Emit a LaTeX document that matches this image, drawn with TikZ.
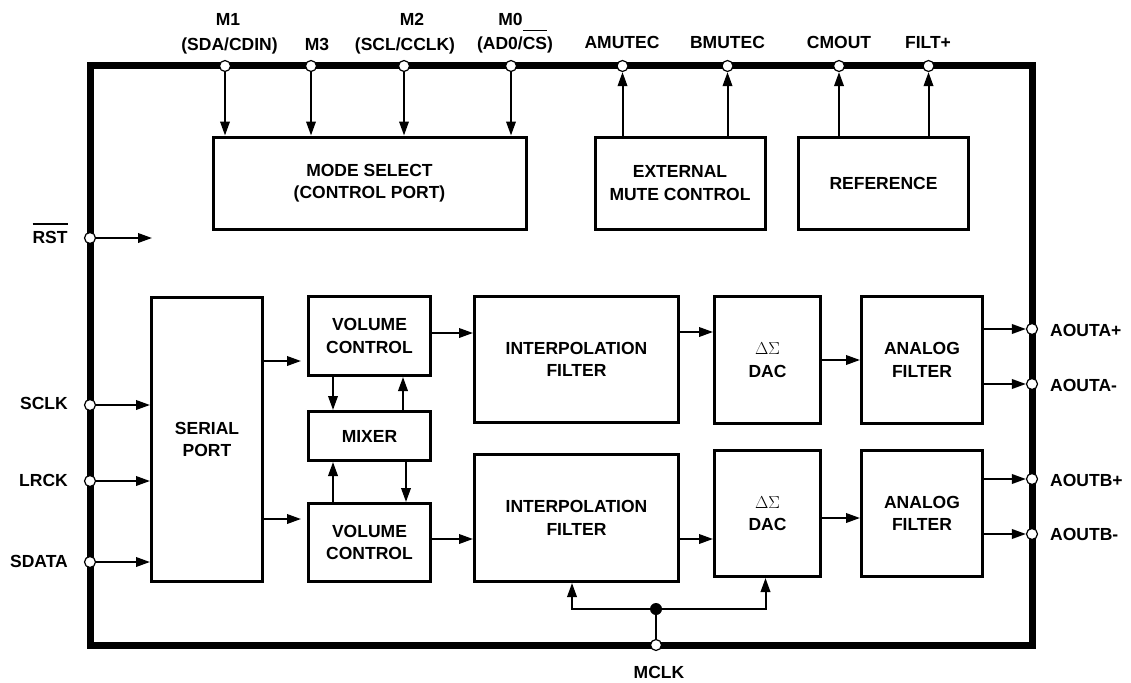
\documentclass[tikz,border=0pt]{standalone}
\usepackage{fontspec}
\setmainfont{Liberation Sans}
\usetikzlibrary{arrows.meta}
\newlength\olw
\newcommand\olt[1]{\settowidth\olw{#1}\rlap{\rule[18.5pt]{\olw}{1.3pt}}#1}
\begin{document}
\begin{tikzpicture}[x=1pt,y=-1pt,
  every node/.style={font=\fontsize{17.5}{22.5}\selectfont\bfseries},
  box/.style={draw, line width=3pt, inner sep=0pt, align=center},
  lbl/.style={inner sep=0pt, align=center},
  pinc/.style={circle, draw, fill=white, line width=1.2pt, inner sep=0pt, minimum size=11pt},
  arr/.style={line width=2pt, -{Triangle[length=14pt,width=9.5pt]}},
  wire/.style={line width=2pt}]
\useasboundingbox (0,0) rectangle (1131,682);

% chip outline
\node[draw, line width=7pt, minimum width=942pt, minimum height=579pt, inner sep=0pt] (chip) at (561,355.5) {};

% pins
\foreach \n/\x in {M1/225, M3/311, M2/404, M0/511, AM/622.5, BM/727.5, CM/839, FP/928.5}
  \node[pinc] (p\n) at (\x,66) {};
\foreach \n/\y in {RST/238, SCLK/405, LRCK/481, SDATA/562}
  \node[pinc] (p\n) at (90,\y) {};
\foreach \n/\y in {AAp/329, AAm/384, ABp/479, ABm/534}
  \node[pinc] (p\n) at (1032,\y) {};
\node[pinc] (pMCLK) at (656,645) {};

% blocks
\node[box, minimum width=313pt, minimum height=92pt] (mode) at (369.5,183) {MODE SELECT\\(CONTROL PORT)};
\node[box, minimum width=170pt, minimum height=92pt] (mute) at (680,183) {EXTERNAL\\MUTE CONTROL};
\node[box, minimum width=170pt, minimum height=92pt] (ref) at (883.5,183) {REFERENCE};
\node[box, minimum width=111pt, minimum height=284pt] (serial) at (207,439.5) {SERIAL\\PORT};
\node[box, minimum width=122pt, minimum height=79pt] (vol1) at (369.5,336) {VOLUME\\CONTROL};
\node[box, minimum width=122pt, minimum height=49pt] (mixer) at (369.5,436) {MIXER};
\node[box, minimum width=122pt, minimum height=78pt] (vol2) at (369.5,542.5) {VOLUME\\CONTROL};
\node[box, minimum width=204pt, minimum height=126pt] (interp1) at (576.5,359.5) {INTERPOLATION\\FILTER};
\node[box, minimum width=204pt, minimum height=127pt] (interp2) at (576.5,518) {INTERPOLATION\\FILTER};
\node[box, minimum width=106pt, minimum height=127pt] (dac1) at (767.5,360) {{\fontsize{16}{22}\selectfont\mdseries$\Delta\Sigma$}\\DAC};
\node[box, minimum width=106pt, minimum height=126pt] (dac2) at (767.5,513.5) {{\fontsize{16}{22}\selectfont\mdseries$\Delta\Sigma$}\\DAC};
\node[box, minimum width=121pt, minimum height=127pt] (ana1) at (922,360) {ANALOG\\FILTER};
\node[box, minimum width=121pt, minimum height=126pt] (ana2) at (922,513.5) {ANALOG\\FILTER};

% pin labels
\node[lbl, anchor=base] (tM1a) at (228,26) {M1};
\node[lbl, anchor=base] (tM1b) at (229.5,51) {(SDA/CDIN)};
\node[lbl, anchor=base] (tM3) at (317,51) {M3};
\node[lbl, anchor=base] (tM2a) at (412,26) {M2};
\node[lbl, anchor=base] (tM2b) at (405,51) {(SCL/CCLK)};
\node[lbl, anchor=base] (tM0a) at (510.5,26) {M0};
\node[lbl, anchor=base] (tM0b) at (515,50) {(AD0/\olt{CS})};
\node[lbl, anchor=base] (tAM) at (622,49) {AMUTEC};
\node[lbl, anchor=base] (tBM) at (727.5,49) {BMUTEC};
\node[lbl, anchor=base] (tCM) at (839,49) {CMOUT};
\node[lbl, anchor=base] (tFP) at (928,49) {FILT+};
\node[lbl, anchor=base] (tRST) at (50,243) {\olt{RST}};
\node[lbl, anchor=base east] (tSCLK) at (68,409) {SCLK};
\node[lbl, anchor=base east] (tLRCK) at (68,486) {LRCK};
\node[lbl, anchor=base east] (tSDATA) at (68,567) {SDATA};
\node[lbl, anchor=base west] (tAAp) at (1050,336) {AOUTA+};
\node[lbl, anchor=base west] (tAAm) at (1050,391) {AOUTA-};
\node[lbl, anchor=base west] (tABp) at (1050,486) {AOUTB+};
\node[lbl, anchor=base west] (tABm) at (1050,540) {AOUTB-};
\node[lbl, anchor=base] (tMCLK) at (659,678) {MCLK};

% control connectors
\foreach \p in {M1,M3,M2,M0}
  \draw[arr] (p\p) -- (p\p |- mode.north);
\foreach \p in {AM,BM}
  \draw[arr] (p\p |- mute.north) -- (p\p);
\foreach \p in {CM,FP}
  \draw[arr] (p\p |- ref.north) -- (p\p);
\coordinate (rstEnd) at (152,238);
\draw[arr] (pRST) -- (rstEnd);
\foreach \p in {SCLK,LRCK,SDATA}
  \draw[arr] (p\p) -- (p\p -| serial.west);

% data path
\draw[arr, shorten >=6pt] ([yshift=78.5pt]serial.east) -- ([yshift=78.5pt]serial.east -| vol1.west);
\draw[arr, shorten >=6pt] ([yshift=-79.5pt]serial.east) -- ([yshift=-79.5pt]serial.east -| vol2.west);
\draw[arr] ([xshift=-36.5pt]vol1.south) -- ([xshift=-36.5pt]mixer.north);
\draw[arr] ([xshift=33.5pt]mixer.north) -- ([xshift=33.5pt]vol1.south);
\draw[arr] ([xshift=36.5pt]mixer.south) -- ([xshift=36.5pt]vol2.north);
\draw[arr] ([xshift=-36.5pt]vol2.north) -- ([xshift=-36.5pt]mixer.south);
\draw[arr] ([yshift=3pt]vol1.east) -- ([yshift=3pt]vol1.east -| interp1.west);
\draw[arr] ([yshift=3.5pt]vol2.east) -- ([yshift=3.5pt]vol2.east -| interp2.west);
\draw[arr] ([yshift=27.5pt]interp1.east) -- ([yshift=27.5pt]interp1.east -| dac1.west);
\draw[arr] ([yshift=-21pt]interp2.east) -- ([yshift=-21pt]interp2.east -| dac2.west);
\draw[arr] (dac1.east) -- (dac1.east -| ana1.west);
\draw[arr] ([yshift=-4.5pt]dac2.east) -- ([yshift=-4.5pt]dac2.east -| ana2.west);
\draw[arr] (pAAp -| ana1.east) -- (pAAp);
\draw[arr] (pAAm -| ana1.east) -- (pAAm);
\draw[arr] (pABp -| ana2.east) -- (pABp);
\draw[arr] (pABm -| ana2.east) -- (pABm);

% clock
\node[circle, fill, inner sep=0pt, minimum size=12pt] (jct) at (656,609) {};
\draw[wire] (pMCLK) -- (jct);
\draw[arr] (jct) -| ([xshift=-4.5pt]interp2.south);
\draw[arr] (jct) -| ([xshift=-2pt]dac2.south);
\end{tikzpicture}
\end{document}
